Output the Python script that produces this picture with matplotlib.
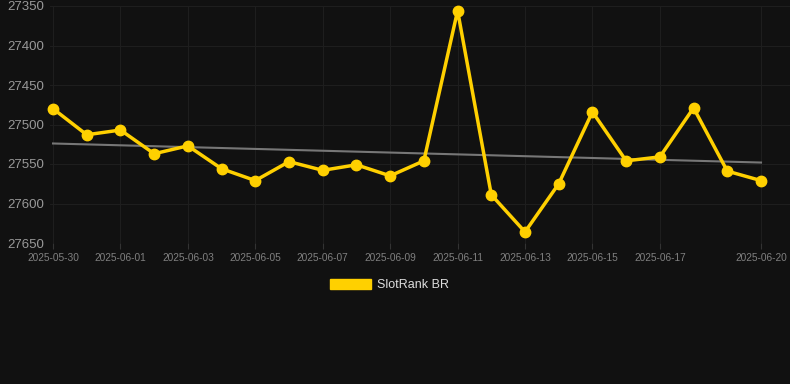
import numpy as np
import pandas as pd
import matplotlib
matplotlib.use('Agg')
import matplotlib.pyplot as plt
import matplotlib.dates as mdates
from matplotlib.patches import Patch

plt.rcParams['font.family'] = ['Liberation Sans', 'DejaVu Sans']

dates = pd.date_range('2025-05-30', '2025-06-20', freq='D')
ranks = [27480, 27513, 27507, 27537, 27527, 27556, 27571, 27547, 27558, 27551, 27565,
         27546, 27356, 27589, 27636, 27575, 27484, 27546, 27541, 27479, 27559, 27571]
tick_dates = ['2025-05-30', '2025-06-01', '2025-06-03', '2025-06-05', '2025-06-07',
              '2025-06-09', '2025-06-11', '2025-06-13', '2025-06-15', '2025-06-17', '2025-06-20']
series_name = 'SlotRank BR'

bg = '#111111'
gold = '#FFD000'

fig = plt.figure(figsize=(7.9, 3.84), dpi=100, facecolor=bg)
ax = fig.add_axes([50/790, 1-243/384, (790-50)/790, (243-6)/384])
ax.set_facecolor(bg)

xnum = mdates.date2num(dates)
# trend line (least squares)
k, b = np.polyfit(xnum, ranks, 1)
ax.plot(dates, k*xnum + b, color='#777777', linewidth=1.5, zorder=2)

ax.plot(dates, ranks, color=gold, linewidth=2.5, marker='o', markersize=7.5, zorder=3,
        clip_on=False)

ax.set_ylim(27650, 27350)
ax.set_yticks([27350, 27400, 27450, 27500, 27550, 27600, 27650])
ax.set_xlim(xnum[0] - 0.09, xnum[-1] + 0.86)
ax.set_xticks(mdates.date2num(pd.to_datetime(tick_dates)))
ax.set_xticklabels(tick_dates)

ax.grid(True, color='#1e1e1e', linewidth=0.8)
ax.set_axisbelow(True)
for s in ax.spines.values():
    s.set_visible(False)
ax.tick_params(axis='y', colors='#999999', labelsize=9.5, length=0, pad=4)
ax.tick_params(axis='x', colors='#333333', labelcolor='#808080', labelsize=7.3, length=4, pad=3)

fig.legend(handles=[Patch(facecolor=gold, edgecolor=gold)], labels=[series_name],
           loc='center', bbox_to_anchor=(0.493, 0.258), frameon=False,
           labelcolor='#dddddd', fontsize=9, handlelength=3.3, handleheight=0.9,
           handletextpad=0.5)

fig.savefig('out.png', dpi=100, facecolor=bg)
